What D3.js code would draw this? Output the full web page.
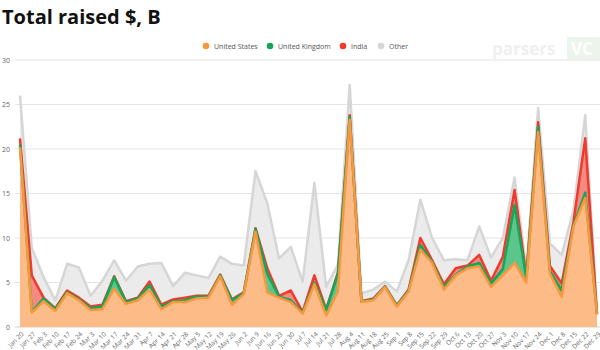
<!DOCTYPE html>
<html><head><meta charset="utf-8">
<script src="https://cdn.jsdelivr.net/npm/d3@7"></script>
<style>body{margin:0;background:#fff;} svg{display:block;font-family:"Open Sans",sans-serif;}</style>
</head><body><svg id="c" width="600" height="350"></svg>
<script>
const dates = ["Jan 20","Jan 27","Feb 3","Feb 10","Feb 17","Feb 24","Mar 3","Mar 10","Mar 17","Mar 24","Mar 31","Apr 7","Apr 14","Apr 21","Apr 28","May 5","May 12","May 19","May 26","Jun 2","Jun 9","Jun 16","Jun 23","Jun 30","Jul 7","Jul 14","Jul 21","Jul 28","Aug 4","Aug 11","Aug 18","Aug 25","Sep 1","Sep 8","Sep 15","Sep 22","Sep 29","Oct 6","Oct 13","Oct 20","Oct 27","Nov 3","Nov 10","Nov 17","Nov 24","Dec 1","Dec 8","Dec 15","Dec 22","Dec 29"];
const unitedStates = [20.2,1.6,2.9,1.8,3.8,3.0,1.9,2.0,4.3,2.6,3.0,4.2,2.0,2.8,2.8,3.2,3.3,5.7,2.5,3.7,10.7,3.9,3.3,2.8,1.5,4.8,1.3,4.0,23.3,2.8,3.0,4.5,2.3,4.0,8.7,7.2,4.2,5.8,6.6,6.8,4.5,5.8,7.2,5.0,21.9,6.0,3.4,11.3,14.5,1.4];
const unitedKingdom = [0.3,0.1,0.3,0.2,0.1,0.1,0.2,0.3,1.3,0.2,0.2,0.5,0.3,0.1,0.2,0.2,0.1,0.1,0.5,0.1,0.3,2.1,0.1,0.2,0.1,0.2,0.6,2.0,0.3,0.05,0.1,0.05,0.1,0.1,0.5,0.1,0.3,0.1,0.2,0.4,0.4,0.7,6.5,0.5,0.6,0.3,0.7,0.1,0.6,0.05];
const india = [0.7,4.1,0.1,0.1,0.2,0.2,0.2,0.2,0.1,0.1,0.1,0.4,0.2,0.2,0.3,0.1,0.1,0.1,0.1,0.1,0.1,0.6,0.1,1.1,0.1,0.8,0.1,0.1,0.2,0.05,0.1,0.05,0.05,0.1,0.8,0.2,0.3,0.7,0.1,0.9,0.3,1.4,1.7,0.2,0.5,0.6,0.8,0.4,6.1,0.05];
const other = [4.8,3.1,2.3,0.9,3.0,3.4,1.2,2.7,1.8,2.3,3.5,2.0,4.7,1.5,2.8,2.3,2.0,2.0,4.0,3.0,6.4,7.3,4.2,4.9,3.4,10.4,2.5,0.9,3.4,0.9,1.0,0.5,1.55,3.3,4.3,2.5,2.7,1.0,0.6,3.2,2.6,2.1,1.4,0.8,1.6,2.5,3.2,1.3,2.6,0.1];
const seriesNames = ["United States","United Kingdom","India","Other"];
const strokeColors = ["#f7983f","#14a659","#ef3b2c","#d6d6d6"];
const fillColors = ["#fdbb87","#5cc68a","#f58a82","#ebebeb"];
const yTicks = [0,5,10,15,20,25,30];

const svg = d3.select("#c");
const x = d3.scalePoint().domain(dates).range([20, 597]);
const y = d3.scaleLinear().domain([0, 30]).range([327, 60]);

svg.append("text").attr("x", 2).attr("y", 24).attr("font-size", 20).attr("font-weight", 700)
  .attr("fill", "#111").text("Total raised $, B");

// watermark
const wm = svg.append("g").attr("opacity", 0.13);
wm.append("text").attr("x", 492).attr("y", 55).attr("font-size", 17).attr("font-weight", 700)
  .attr("fill", "#888").text("parsers");
wm.append("rect").attr("x", 567).attr("y", 37).attr("width", 33).attr("height", 22).attr("fill", "#6cb86c");
wm.append("text").attr("x", 571).attr("y", 55).attr("font-size", 17).attr("font-weight", 700)
  .attr("fill", "#fff").text("VC");

// grid
const grid = svg.append("g");
grid.selectAll("line").data(yTicks).join("line")
  .attr("x1", 15).attr("x2", 600).attr("y1", d => y(d)).attr("y2", d => y(d))
  .attr("stroke", d => d === 0 ? "#cfcfcf" : "#e3e3e3").attr("stroke-width", 1);

const yAxis = d3.axisLeft(y).tickValues(yTicks).tickSize(0).tickPadding(0);
const ya = svg.append("g").attr("transform", "translate(10,0)").call(yAxis);
ya.select(".domain").remove();
ya.selectAll("text").attr("font-size", 7).attr("fill", "#666").attr("font-family", "Open Sans, sans-serif");

// stacked data
const rows = dates.map((d, i) => ({date: d, "United States": unitedStates[i], "United Kingdom": unitedKingdom[i], "India": india[i], "Other": other[i]}));
const stack = d3.stack().keys(seriesNames);
const layers = stack(rows);

const area = d3.area().x(d => x(d.data.date)).y0(d => y(d[0])).y1(d => y(d[1]));
const line = d3.line().x(d => x(d.data.date)).y(d => y(d[1]));

const g = svg.append("g");
for (let k = layers.length - 1; k >= 0; k--) {
  g.append("path").datum(layers[k]).attr("d", area).attr("fill", fillColors[k]).attr("stroke", "none");
}
for (let k = layers.length - 1; k >= 0; k--) {
  g.append("path").datum(layers[k]).attr("d", line).attr("fill", "none")
    .attr("stroke", strokeColors[k]).attr("stroke-width", 2.5).attr("stroke-linejoin", "round");
}

// x axis
const xAxis = d3.axisBottom(x).tickSize(0).tickPadding(0);
const xa = svg.append("g").attr("transform", "translate(0,330)").call(xAxis);
xa.select(".domain").remove();
xa.selectAll("text").attr("font-size", 6.5).attr("fill", "#666").attr("font-family", "Open Sans, sans-serif")
  .attr("text-anchor", "end").attr("dy", "0.35em").attr("dx", 0)
  .attr("transform", "translate(2,3) rotate(-45)");

// legend
const legendX = [206, 270, 343, 381];
const lg = svg.append("g");
seriesNames.forEach((n, i) => {
  lg.append("circle").attr("cx", legendX[i]).attr("cy", 46).attr("r", 3.3).attr("fill", strokeColors[i]);
  lg.append("text").attr("x", legendX[i] + 8).attr("y", 48.5).attr("font-size", 7).attr("fill", "#555").text(n);
});
</script></body></html>
